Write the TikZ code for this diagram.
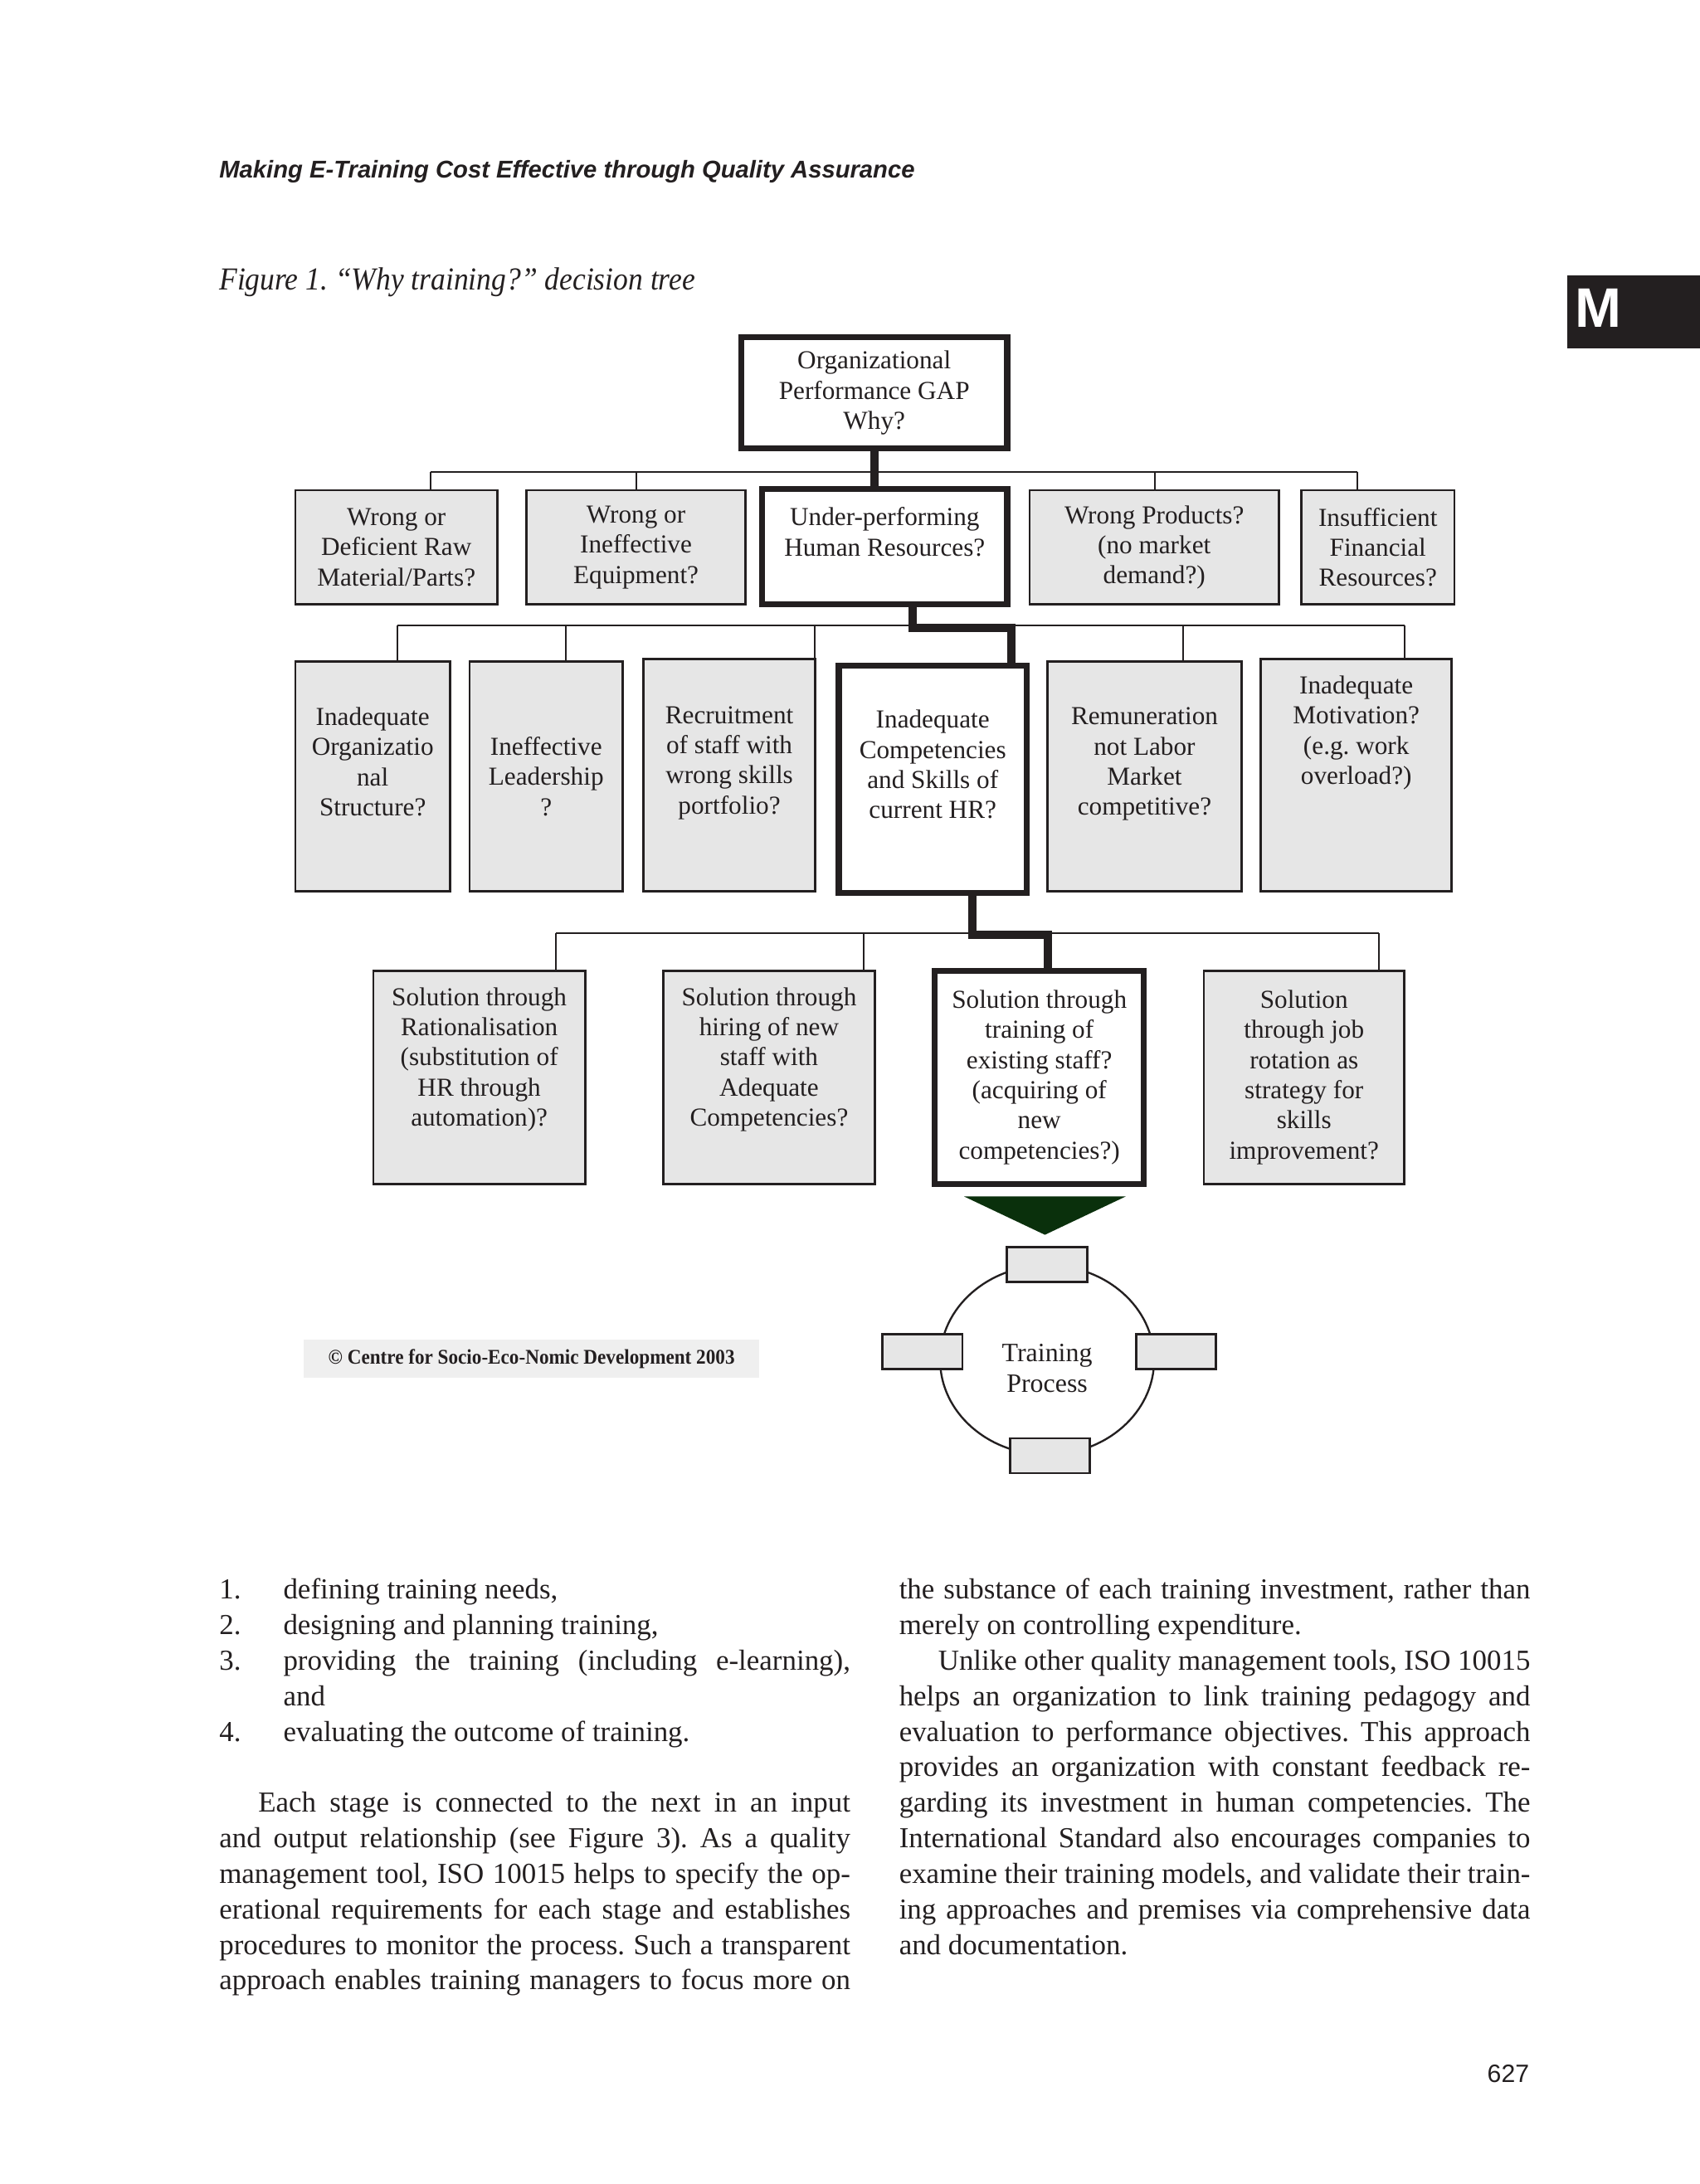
\documentclass[tikz,border=0pt]{standalone}
\usepackage{fontspec}
\setmainfont{Liberation Serif}
\newfontfamily\headfam{Liberation Sans}
\newfontfamily\capfam[FakeStretch=0.92]{Liberation Serif}
\newfontfamily\credfam[FakeStretch=0.92]{Liberation Serif}
\usetikzlibrary{shapes.geometric, positioning, calc}
\frenchspacing

\definecolor{ink}{RGB}{35,31,32}
\definecolor{boxgray}{RGB}{230,230,230}
\definecolor{credgray}{RGB}{239,239,239}
\definecolor{pointergreen}{RGB}{10,48,12}

\newlength{\colwidth}\setlength{\colwidth}{226.5pt}
\newcommand{\justline}[1]{\makebox[\colwidth][s]{#1}}
\newcommand{\itemno}[1]{\makebox[23pt][l]{#1}}

\begin{document}
\begin{tikzpicture}[x=0.5pt, y=-0.5pt,
    cause/.style={rectangle, draw=ink, line width=0.8pt, fill=boxgray, align=center, inner sep=1pt, text=ink, font=\fontsize{9.3}{10.8}\selectfont},
    keycause/.style={cause, fill=white, line width=2.2pt},
    link/.style={draw=ink, line width=0.6pt},
    keylink/.style={draw=ink, line width=3pt},
    stagebox/.style={rectangle, draw=ink, line width=0.8pt, fill=boxgray, minimum width=28.75pt, minimum height=12.5pt},
    bodytext/.style={anchor=north west, inner sep=0pt, align=left, text=ink, font=\fontsize{10.4}{12.75}\selectfont}]

    % --- Page ---
    \fill[white] (0,0) rectangle (1220,1568);
    \useasboundingbox (0,0) rectangle (1220,1568);
    \fill[ink] (1125,198) rectangle (1220,250);
    \node[anchor=base west, inner sep=0pt, text=white, font=\headfam\bfseries\fontsize{20}{20}\selectfont] (tabletter) at (1130,235) {M};
    \node[anchor=base west, inner sep=0pt, text=ink, font=\headfam\bfseries\itshape\fontsize{8.7}{10}\selectfont] (runhead) at (157,128) {Making E-Training Cost Effective through Quality Assurance};
    \node[anchor=base west, inner sep=0pt, text=ink, font=\capfam\itshape\fontsize{11.5}{13}\selectfont] (figcap) at (157,208) {Figure 1. “Why training?” decision tree};

    % --- Root ---
    \node[keycause, minimum width=95.5pt, minimum height=40pt] (gap) at (627.5,282) {Organizational\\Performance GAP\\Why?};

    % --- First level causes ---
    \node[cause, minimum width=72.5pt, minimum height=41pt] (rawmat) at (284.5,393) {Wrong or\\Deficient Raw\\Material/Parts?};
    \node[cause, minimum width=78.5pt, minimum height=41pt] (equip) at (456.5,393) {Wrong or\\Ineffective\\Equipment?};
    \node[keycause, minimum width=88pt, minimum height=41.5pt] (hr) at (635,392.5) {Under-performing\\Human Resources?\\~};
    \node[cause, minimum width=89.5pt, minimum height=41pt] (products) at (828.5,393) {Wrong Products?\\(no market\\demand?)};
    \node[cause, minimum width=55pt, minimum height=41pt] (finance) at (989,393) {Insufficient\\Financial\\Resources?};

    \draw[link] (309,339) -- (974,339);
    \foreach \x/\n in {309/rawmat, 457/equip, 829/products, 974/finance}{
        \coordinate (drop) at (\x,339);
        \draw[link] (drop) -- (drop |- \n.north);
    }
    \draw[keylink] (gap.south) -- (gap.south |- hr.north);

    % --- Second level causes ---
    \node[cause, minimum width=55.5pt, minimum height=82.5pt] (orgstruct) at (267.5,557.5) {Inadequate\\Organizatio\\nal\\Structure?\\~};
    \node[cause, minimum width=55pt, minimum height=82.5pt] (leader) at (392,557.5) {Ineffective\\Leadership\\?};
    \node[cause, minimum width=61.5pt, minimum height=83.5pt] (recruit) at (523.5,556.5) {Recruitment\\of staff with\\wrong skills\\portfolio?\\~};
    \node[keycause, minimum width=67.5pt, minimum height=81.5pt] (competence) at (669.5,559.5) {Inadequate\\Competencies\\and Skills of\\current HR?\\~};
    \node[cause, minimum width=69.5pt, minimum height=82.5pt] (remun) at (821.5,557.5) {Remuneration\\not Labor\\Market\\competitive?\\~};
    \node[cause, minimum width=68.5pt, minimum height=83.5pt] (motiv) at (973.5,556.5) {Inadequate\\Motivation?\\(e.g. work\\overload?)\\~\\~\\~};

    \draw[link] (285,449) -- (1008,449);
    \foreach \x/\n in {285/orgstruct, 406/leader, 585/recruit, 849/remun, 1008/motiv}{
        \coordinate (drop) at (\x,449);
        \draw[link] (drop) -- (drop |- \n.north);
    }
    \coordinate (hrstep) at (726,451);
    \draw[keylink] ([xshift=10pt]hr.south) |- (hrstep) -- (hrstep |- competence.north);

    % --- Solutions ---
    \node[cause, minimum width=76pt, minimum height=76.5pt] (rational) at (344,773.5) {Solution through\\Rationalisation\\(substitution of\\HR through\\automation)?\\[4pt]~};
    \node[cause, minimum width=76pt, minimum height=76.5pt] (hiring) at (552,773.5) {Solution through\\hiring of new\\staff with\\Adequate\\Competencies?\\[4pt]~};
    \node[keycause, minimum width=75pt, minimum height=76.5pt] (trainstaff) at (746,773.5) {Solution through\\training of\\existing staff?\\(acquiring of\\new\\competencies?)};
    \node[cause, minimum width=72pt, minimum height=76.5pt] (rotation) at (936,773.5) {Solution\\through job\\rotation as\\strategy for\\skills\\improvement?};

    \draw[link] (399,670) -- (990,670);
    \foreach \x/\n in {399/rational, 620/hiring, 990/rotation}{
        \coordinate (drop) at (\x,670);
        \draw[link] (drop) -- (drop |- \n.north);
    }
    \coordinate (compstep) at (752,671);
    \draw[keylink] ([xshift=14.25pt]competence.south) |- (compstep) -- (compstep |- trainstaff.north);

    % --- Training process ---
    \fill[pointergreen] (692,859) -- (808,859) -- (750,886.5) -- cycle;
    \node[ellipse, draw=ink, line width=0.7pt, minimum width=76.8pt, minimum height=68pt, inner sep=0pt, align=center, text=ink, font=\fontsize{9.5}{10.8}\selectfont] (process) at (751.6,976.4) {~\\[1.5pt]Training\\Process};
    \node[stagebox] (stagetop) at (process.north) {};
    \node[stagebox] (stageleft) at ([xshift=-6pt,yshift=3pt]process.west) {};
    \node[stagebox] (stageright) at ([xshift=7.5pt,yshift=3pt]process.east) {};
    \node[stagebox] (stagebottom) at ([xshift=1pt]process.south) {};

    \node[fill=credgray, minimum width=163.5pt, minimum height=13.5pt, inner sep=0pt, text=ink, font=\credfam\bfseries\fontsize{7.5}{9}\selectfont] (credit) at (381.5,975.5) {\textcopyright{} Centre for Socio-Eco-Nomic Development 2003};

    % --- Body text ---
    \node[bodytext] (leftcol) at (157,1133) {%
        \itemno{1.}defining training needs,\\
        \itemno{2.}designing and planning training,\\
        \itemno{3.}\makebox[203.5pt][s]{providing the training (including e-learning),}\\
        \hspace*{23pt}and\\
        \itemno{4.}evaluating the outcome of training.\\[12.75pt]
        \justline{\hspace*{14pt}Each stage is connected to the next in an input}\\
        \justline{and output relationship (see Figure 3). As a quality}\\
        \justline{management tool, ISO 10015 helps to specify the op-}\\
        \justline{erational requirements for each stage and establishes}\\
        \justline{procedures to monitor the process. Such a transparent}\\
        \justline{approach enables training managers to focus more on}};
    \node[bodytext] (rightcol) at (645,1133) {%
        \justline{the substance of each training investment, rather than}\\
        merely on controlling expenditure.\\
        \justline{\hspace*{14pt}Unlike other quality management tools, ISO 10015}\\
        \justline{helps an organization to link training pedagogy and}\\
        \justline{evaluation to performance objectives. This approach}\\
        \justline{provides an organization with constant feedback re-}\\
        \justline{garding its investment in human competencies. The}\\
        \justline{International Standard also encourages companies to}\\
        \justline{examine their training models, and validate their train-}\\
        \justline{ing approaches and premises via comprehensive data}\\
        and documentation.};

    \node[anchor=base east, inner sep=0pt, text=ink, font=\headfam\fontsize{9}{10}\selectfont] (folio) at (1098,1495) {627};

\end{tikzpicture}
\end{document}
